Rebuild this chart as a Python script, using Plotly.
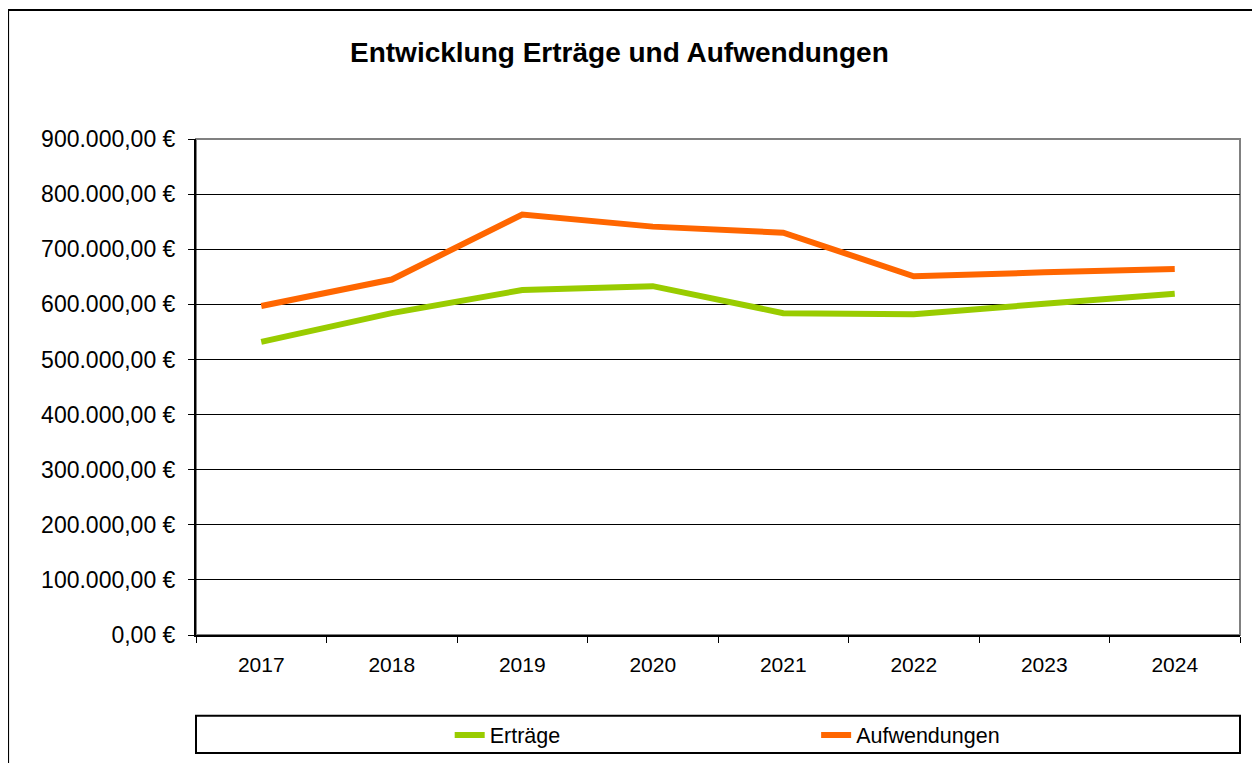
import plotly.graph_objects as go

# data
jahre = ["2017", "2018", "2019", "2020", "2021", "2022", "2023", "2024"]
ertraege = [532000, 584000, 626000, 633000, 584000, 582000, 601000, 619000]
aufwendungen = [597000, 645000, 763000, 741000, 730000, 651000, 658000, 664000]
y_ticks = [0, 100000, 200000, 300000, 400000, 500000, 600000, 700000, 800000, 900000]
y_labels = ["0,00 €", "100.000,00 €", "200.000,00 €", "300.000,00 €", "400.000,00 €",
            "500.000,00 €", "600.000,00 €", "700.000,00 €", "800.000,00 €", "900.000,00 €"]

font = "Liberation Sans, Arial, sans-serif"

fig = go.Figure()
fig.add_trace(go.Scatter(x=jahre, y=ertraege, mode="lines", name="Erträge",
                         line=dict(color="#99CC00", width=6), legend="legend"))
fig.add_trace(go.Scatter(x=jahre, y=aufwendungen, mode="lines", name="Aufwendungen",
                         line=dict(color="#FF6600", width=6), legend="legend2"))

leg = dict(orientation="h", xanchor="left", y=-0.2016, yanchor="middle",
           bgcolor="rgba(0,0,0,0)", borderwidth=0, font=dict(size=21.5, family=font))

# page body has an 8px margin, so the figure is 8px smaller than the window
fig.update_layout(
    width=1252, height=755,
    margin=dict(l=188, r=20, t=131, b=128, autoexpand=False),
    paper_bgcolor="white", plot_bgcolor="white",
    font=dict(family=font, size=21, color="black"),
    showlegend=True,
    legend=dict(leg, x=0.243),
    legend2=dict(leg, x=0.594),
)

fig.update_xaxes(type="category", range=[-0.5, 7.5], tickson="boundaries",
                 ticks="outside", ticklen=6, tickcolor="black", showgrid=False,
                 showline=True, linecolor="black", linewidth=2, zeroline=False,
                 ticklabelstandoff=10)
fig.update_yaxes(range=[0, 900000], tickvals=y_ticks, ticktext=y_labels,
                 ticks="outside", ticklen=6, tickcolor="black", tickfont=dict(size=23),
                 showgrid=True, gridcolor="black", gridwidth=1,
                 showline=True, linecolor="black", linewidth=2, zeroline=False,
                 ticklabelstandoff=8)

# gray border round the plot area, outer chart frame, legend box
fig.add_shape(type="rect", xref="paper", yref="paper", x0=0, x1=1, y0=0, y1=1,
              line=dict(color="#808080", width=2), layer="below")
fig.add_shape(type="rect", xref="paper", yref="paper", x0=-0.18, x1=1.03, y0=-0.28, y1=1.26,
              line=dict(color="black", width=2))
fig.add_shape(type="rect", xref="paper", yref="paper", x0=0, x1=1, y0=-0.238, y1=-0.163,
              line=dict(color="black", width=2))

fig.add_annotation(text="<b>Entwicklung Erträge und Aufwendungen</b>", xref="paper", yref="paper",
                   x=0.406, y=1.175, yanchor="middle", showarrow=False,
                   font=dict(size=28, family=font))

fig.write_html("out.html")
